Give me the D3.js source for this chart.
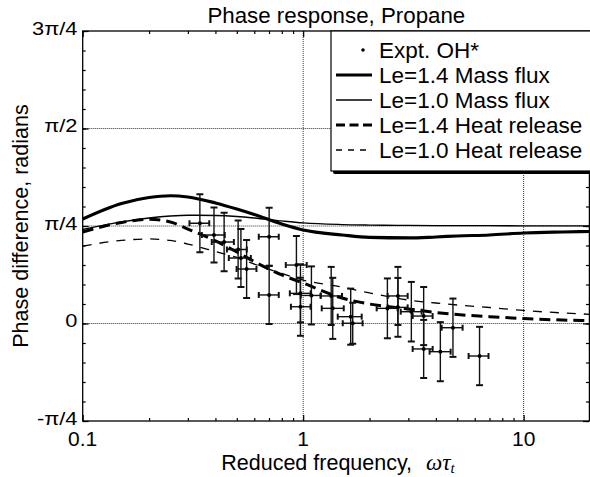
<!DOCTYPE html>
<html><head><meta charset="utf-8">
<script src="https://cdn.jsdelivr.net/npm/d3@7"></script>
<style>body{margin:0;background:#fff} svg{display:block}</style>
</head><body>
<svg id="c" width="590" height="477"></svg>
<script>
// ---- data ----
const curveX   = [0.1, 0.15, 0.2, 0.25, 0.3, 0.4, 0.5, 0.6, 0.8, 1, 1.5, 2, 3, 4, 5, 7, 10, 15, 20];
const massLe14 = [0.842, 0.967, 1.015, 1.029, 1.019, 0.971, 0.922, 0.878, 0.801, 0.753, 0.713, 0.693, 0.689, 0.697, 0.705, 0.713, 0.729, 0.737, 0.741];
const massLe10 = [0.757, 0.818, 0.850, 0.866, 0.872, 0.870, 0.862, 0.850, 0.826, 0.810, 0.797, 0.793, 0.790, 0.789, 0.788, 0.788, 0.787, 0.787, 0.787];
const heatLe14 = [0.737, 0.814, 0.839, 0.818, 0.761, 0.665, 0.576, 0.499, 0.391, 0.326, 0.205, 0.157, 0.117, 0.089, 0.072, 0.055, 0.040, 0.028, 0.023];
const heatLe10 = [0.624, 0.669, 0.681, 0.669, 0.640, 0.580, 0.532, 0.479, 0.403, 0.350, 0.294, 0.246, 0.189, 0.165, 0.149, 0.129, 0.105, 0.085, 0.074];

const exptX    = [0.340, 0.394, 0.438, 0.507, 0.522, 0.554, 0.701, 0.701, 0.932, 0.972, 1.09, 0.972, 1.362, 1.34, 1.643, 1.678, 2.41, 2.69, 2.69, 3.095, 3.52, 3.52, 4.19, 4.78, 6.31];
const exptXLo  = [0.305, 0.347, 0.385, 0.451, 0.460, 0.499, 0.629, 0.629, 0.834, 0.870, 0.975, 0.880, 1.214, 1.20, 1.435, 1.512, 2.155, 2.417, 2.417, 2.77, 3.138, 3.138, 3.746, 4.246, 5.63];
const exptXHi  = [0.375, 0.441, 0.485, 0.555, 0.579, 0.614, 0.775, 0.775, 1.038, 1.082, 1.202, 1.080, 1.528, 1.50, 1.843, 1.860, 2.683, 2.978, 2.978, 3.446, 3.866, 3.866, 4.665, 5.287, 6.93];
const exptY    = [0.807, 0.713, 0.656, 0.596, 0.528, 0.439, 0.699, 0.230, 0.471, 0.243, 0.226, 0.135, 0.122, 0.222, 0.055, 0.002, 0.122, 0.222, 0.130, 0.095, 0.060, -0.205, -0.227, -0.034, -0.262];
const exptYErr = [0.234, 0.222, 0.236, 0.234, 0.234, 0.234, 0.234, 0.234, 0.234, 0.234, 0.234, 0.234, 0.246, 0.234, 0.226, 0.165, 0.241, 0.234, 0.237, 0.240, 0.234, 0.234, 0.238, 0.235, 0.235];

const xTicks = [0.1, 1, 10];
const xTickLabels = ["0.1", "1", "10"];
const yTicks = [-Math.PI/4, 0, Math.PI/4, Math.PI/2, 3*Math.PI/4];
const yTickLabels = ["-π/4", "0", "π/4", "π/2", "3π/4"];
const xGrid = [1, 10];
const yGrid = [0, Math.PI/4, Math.PI/2];
const legendLabels = ["Expt. OH*", "Le=1.4 Mass flux", "Le=1.0 Mass flux", "Le=1.4 Heat release", "Le=1.0 Heat release"];
const titleText = "Phase response, Propane";
const yLabelText = "Phase difference, radians";

// ---- layout ----
const L = 82.7, R = 590, T = 31, B = 421;
const svg = d3.select("#c");
const x = d3.scaleLog().domain([0.1, 20]).range([L, R]);
const y = d3.scaleLinear().domain([-Math.PI/4, 3*Math.PI/4]).range([B, T]);
const font = "'Liberation Sans', Arial, Helvetica, sans-serif";
const serif = "'Liberation Serif', 'DejaVu Serif', serif";

// grid
const g = svg.append("g");
g.selectAll(".gx").data(xGrid).enter().append("line")
  .attr("x1", d => x(d)).attr("x2", d => x(d)).attr("y1", T).attr("y2", B)
  .attr("stroke", "#333").attr("stroke-width", 1).attr("stroke-dasharray", "1,1");
g.selectAll(".gy").data(yGrid).enter().append("line")
  .attr("x1", L).attr("x2", R).attr("y1", d => y(d)).attr("y2", d => y(d))
  .attr("stroke", "#333").attr("stroke-width", 1.2).attr("stroke-dasharray", "1,1");

// ticks via axes (inward)
const minorX = [];
for (let dec of [0.1, 1, 10]) for (let k = 2; k <= 9; k++) { const v = dec * k; if (v < 20) minorX.push(v); }
const minorY = d3.range(-5, 16).map(i => i * Math.PI / 20);

const axB = d3.axisBottom(x).tickValues(minorX).tickSize(-3).tickFormat("");
const axT = d3.axisTop(x).tickValues(minorX).tickSize(-3).tickFormat("");
const axBM = d3.axisBottom(x).tickValues(xTicks).tickSize(-6).tickFormat("");
const axTM = d3.axisTop(x).tickValues(xTicks).tickSize(-6).tickFormat("");
const axL = d3.axisLeft(y).tickValues(minorY).tickSize(-3).tickFormat("");
const axRt = d3.axisRight(y).tickValues(minorY).tickSize(-3).tickFormat("");
const axLM = d3.axisLeft(y).tickValues(yTicks).tickSize(-6).tickFormat("");
const axRM = d3.axisRight(y).tickValues(yTicks).tickSize(-6).tickFormat("");
function styleAx(sel){ sel.select(".domain").remove(); sel.selectAll("line").attr("stroke","#000").attr("stroke-width",1.2); }
svg.append("g").attr("transform",`translate(0,${B})`).call(axB).call(styleAx);
svg.append("g").attr("transform",`translate(0,${T})`).call(axT).call(styleAx);
svg.append("g").attr("transform",`translate(0,${B})`).call(axBM).call(styleAx);
svg.append("g").attr("transform",`translate(0,${T})`).call(axTM).call(styleAx);
svg.append("g").attr("transform",`translate(${L},0)`).call(axL).call(styleAx);
svg.append("g").attr("transform",`translate(${R - 1},0)`).call(axRt).call(styleAx);
svg.append("g").attr("transform",`translate(${L},0)`).call(axLM).call(styleAx);
svg.append("g").attr("transform",`translate(${R - 1},0)`).call(axRM).call(styleAx);

// frame
svg.append("rect").attr("x", L).attr("y", T).attr("width", R - L - 0.6).attr("height", B - T)
  .attr("fill", "none").attr("stroke", "#000").attr("stroke-width", 1.3);

// tick labels
svg.selectAll(".xl").data(xTicks).enter().append("text")
  .attr("x", d => x(d)).attr("y", 446).attr("text-anchor", "middle")
  .attr("font-family", font).attr("font-size", 21).text((d, i) => xTickLabels[i]);
svg.selectAll(".yl").data(yTicks).enter().append("text")
  .attr("transform", d => `translate(77.5,${y(d) + 3.5}) scale(1.15,1)`)
  .attr("text-anchor", "end")
  .attr("font-family", font).attr("font-size", 19).text((d, i) => yTickLabels[i]);

// curves
const line = d3.line().x((d, i) => x(curveX[i])).y(d => y(d)).curve(d3.curveMonotoneX);
svg.append("clipPath").attr("id", "pc").append("rect")
  .attr("x", L).attr("y", T).attr("width", R - L).attr("height", B - T);
const pg = svg.append("g").attr("clip-path", "url(#pc)");
pg.append("path").attr("d", line(heatLe10)).attr("fill","none").attr("stroke","#000").attr("stroke-width",1.3).attr("stroke-dasharray","9,8");
pg.append("path").attr("d", line(heatLe14)).attr("fill","none").attr("stroke","#000").attr("stroke-width",3).attr("stroke-dasharray","11,6");
pg.append("path").attr("d", line(massLe10)).attr("fill","none").attr("stroke","#000").attr("stroke-width",1.3);
pg.append("path").attr("d", line(massLe14)).attr("fill","none").attr("stroke","#000").attr("stroke-width",3.2);

// experimental points with error bars
const pts = exptX.map((v, i) => ({x: v, y: exptY[i], xl: exptXLo[i], xh: exptXHi[i], e: exptYErr[i]}));
const eg = pg.append("g").attr("stroke", "#111").attr("stroke-width", 1.4);
pts.forEach(p => {
  const cx = x(p.x), cy = y(p.y), y1 = y(p.y + p.e), y2 = y(p.y - p.e), x1 = x(p.xl), x2 = x(p.xh);
  eg.append("line").attr("x1", cx).attr("x2", cx).attr("y1", y1).attr("y2", y2);
  eg.append("line").attr("x1", cx - 3.5).attr("x2", cx + 3.5).attr("y1", y1).attr("y2", y1).attr("stroke-width", 2);
  eg.append("line").attr("x1", cx - 3.5).attr("x2", cx + 3.5).attr("y1", y2).attr("y2", y2).attr("stroke-width", 2);
  eg.append("line").attr("x1", x1).attr("x2", x2).attr("y1", cy).attr("y2", cy);
  eg.append("line").attr("x1", x1).attr("x2", x1).attr("y1", cy - 3).attr("y2", cy + 3).attr("stroke-width", 2);
  eg.append("line").attr("x1", x2).attr("x2", x2).attr("y1", cy - 3).attr("y2", cy + 3).attr("stroke-width", 2);
  pg.append("circle").attr("cx", cx).attr("cy", cy).attr("r", 2).attr("fill", "#000");
});

// title and axis labels
svg.append("text").attr("x", (L + R) / 2).attr("y", 23).attr("text-anchor", "middle")
  .attr("font-family", font).attr("font-size", 22.3).text(titleText);
svg.append("text").attr("transform", `translate(28,${(T + B) / 2}) rotate(-90)`).attr("text-anchor", "middle")
  .attr("font-family", font).attr("font-size", 21.5).text(yLabelText);
const xl = svg.append("text").attr("x", 338).attr("y", 470).attr("text-anchor", "middle")
  .attr("font-family", font).attr("font-size", 21.5);
xl.append("tspan").text("Reduced frequency,");
xl.append("tspan").attr("dx", 14).attr("font-family", serif).attr("font-style", "italic").attr("font-size", 23).text("ωτ");
xl.append("tspan").attr("font-family", serif).attr("font-style", "italic").attr("font-size", 15).attr("dy", 3).text("t");

// legend
const lx = 331, ly = 31, lw = 262, lh = 140;
svg.append("rect").attr("x", lx + 2).attr("y", ly + 3).attr("width", lw).attr("height", lh).attr("rx", 2).attr("fill", "#000");
svg.append("rect").attr("x", lx).attr("y", ly).attr("width", lw).attr("height", lh).attr("fill", "#fff").attr("stroke", "#000").attr("stroke-width", 1.2);
const legStyles = [null, {w: 3.2, d: null}, {w: 1.3, d: null}, {w: 3, d: "9,4.5"}, {w: 1.3, d: "6,6"}];
legendLabels.forEach((lab, i) => {
  const by = 58.3 + i * 25;
  const my = by - 8.3;
  if (i === 0) {
    svg.append("circle").attr("cx", 363).attr("cy", my).attr("r", 1.8).attr("fill", "#000");
  } else {
    const s = legStyles[i];
    const ln = svg.append("line").attr("x1", 336).attr("x2", 372).attr("y1", my).attr("y2", my)
      .attr("stroke", "#000").attr("stroke-width", s.w);
    if (s.d) ln.attr("stroke-dasharray", s.d);
  }
  svg.append("text").attr("x", 379).attr("y", by).attr("font-family", font).attr("font-size", 22.5).text(lab);
});
</script>
</body></html>
